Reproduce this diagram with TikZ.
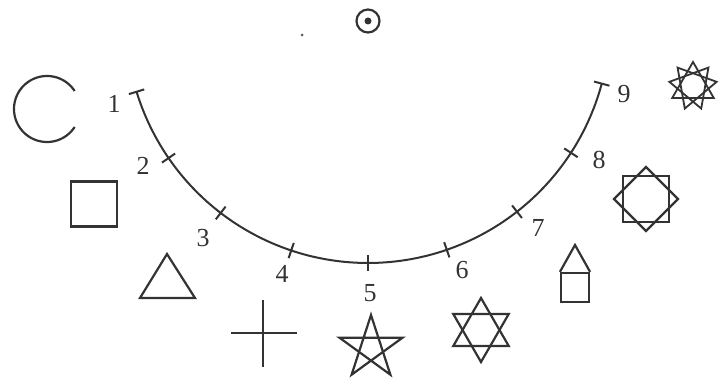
\documentclass[tikz,border=0pt]{standalone}
\usepackage{fontspec}
\setmainfont{Liberation Serif}
\usetikzlibrary{calc}
\definecolor{ink}{HTML}{333333}
\tikzset{
  shp/.style={draw=ink, line width=2.2pt, line join=miter},
  lbl/.style={text=ink, font=\fontsize{26}{26}\selectfont, inner sep=0pt},
  tk/.style={draw=ink, line width=2pt}
}
\begin{document}
\begin{tikzpicture}[x=1pt,y=-1pt]
\useasboundingbox (0,0) rectangle (720,379);
% centre of the arc (the dotted circle)
\coordinate (c) at (368,21);
\node[circle, draw=ink, line width=2.2pt, minimum size=23pt, inner sep=0pt] (ctr) at (368,21) {};
\node[circle, fill=ink, minimum size=7pt, inner sep=0pt] (ctrdot) at (368,21) {};
\node[circle, fill=ink!80, minimum size=3pt, inner sep=0pt] (speck) at (302,35) {};
% arc
\draw[tk] plot[domain=163:15, samples=120] ({368+242*cos(\x)},{21+242*sin(\x)});
% ticks and labels
\foreach \a/\n/\lx/\ly in {163/1/114/104, 145.5/2/143/166, 127.5/3/203/238, 108.5/4/282/274, 90/5/370/293, 71/6/462/270, 52/7/538/228, 33/8/599/160, 15/9/624/94}{
  \coordinate (t\n a) at ($(c)+(\a:234)$);
  \coordinate (t\n b) at ($(c)+(\a:250)$);
  \draw[tk] (t\n a) -- (t\n b);
  \node[lbl] (l\n) at (\lx,\ly) {\n};
}
% 1: open circle
\draw[shp] plot[domain=33:327, samples=80] ({47+33*cos(\x)},{109+33*sin(\x)});
% 2: square
\node[shp, minimum width=46pt, minimum height=45pt, inner sep=0pt] (s2) at (94,204) {};
% 3: triangle
\coordinate (s3a) at (140,298);
\coordinate (s3b) at (167,254);
\coordinate (s3c) at (195,298);
\draw[shp] (s3a) -- (s3b) -- (s3c) -- cycle;
% 4: cross
\coordinate (s4l) at (231,333);
\coordinate (s4r) at (297,333);
\coordinate (s4t) at (263,300);
\coordinate (s4b) at (263,367);
\draw[shp] (s4l) -- (s4r) (s4t) -- (s4b);
% 5: pentagram
\coordinate (s5) at (371,348);
\foreach \k in {0,...,4}{ \coordinate (p\k) at ($(s5)+(-90+72*\k:33)$); }
\draw[shp] (p0) -- (p2) -- (p4) -- (p1) -- (p3) -- cycle;
% 6: hexagram
\coordinate (s6) at (481,330);
\foreach \k in {0,...,5}{ \coordinate (h\k) at ($(s6)+(-90+60*\k:32)$); }
\draw[shp] (h0) -- (h2) -- (h4) -- cycle;
\draw[shp] (h1) -- (h3) -- (h5) -- cycle;
% 7: house
\node[shp, minimum width=28pt, minimum height=29pt, inner sep=0pt] (s7) at (575,287.5) {};
\coordinate (s7top) at (575,245);
\draw[shp] (s7.north west) -- (s7top) -- (s7.north east);
% 8: octagram
\coordinate (s8) at (646,199);
\foreach \k in {0,...,7}{ \coordinate (o\k) at ($(s8)+(-90+45*\k:32)$); }
\draw[shp] (o0) -- (o2) -- (o4) -- (o6) -- cycle;
\draw[shp] (o1) -- (o3) -- (o5) -- (o7) -- cycle;
% 9: nine-pointed star (three triangles)
\coordinate (s9) at (693,86);
\foreach \k in {0,...,8}{ \coordinate (n\k) at ($(s9)+(-90+40*\k:24)$); }
\draw[shp, line width=1.8pt] (n0) -- (n3) -- (n6) -- cycle;
\draw[shp, line width=1.8pt] (n1) -- (n4) -- (n7) -- cycle;
\draw[shp, line width=1.8pt] (n2) -- (n5) -- (n8) -- cycle;
\end{tikzpicture}
\end{document}
